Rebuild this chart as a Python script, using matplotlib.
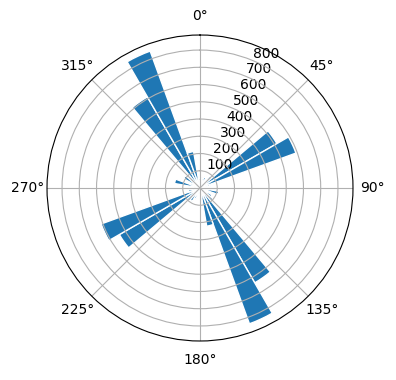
import numpy as np
import matplotlib
matplotlib.use("Agg")
import matplotlib.pyplot as plt

# wind direction bins (deg, left edge) and counts
bin_edges = np.arange(0, 360, 10)
counts = [40, 60, 70, 50, 90, 515, 592, 60, 40, 50,
          110, 40, 80, 100, 635, 838, 225, 60, 40, 50,
          70, 90, 100, 540, 610, 70, 50, 40, 150, 60,
          110, 80, 610, 845, 215, 60]

fig = plt.figure(figsize=(3.96, 3.8), dpi=100)
ax = fig.add_axes([0.1187, 0.1026, 0.7727, 0.8053], projection='polar')
ax.set_theta_zero_location('N')
ax.set_theta_direction(-1)

ax.bar(np.deg2rad(bin_edges), counts, width=np.deg2rad(10), align='edge',
       color='#1f77b4', edgecolor='white', linewidth=1)

fig.savefig('out.png', dpi=100)
